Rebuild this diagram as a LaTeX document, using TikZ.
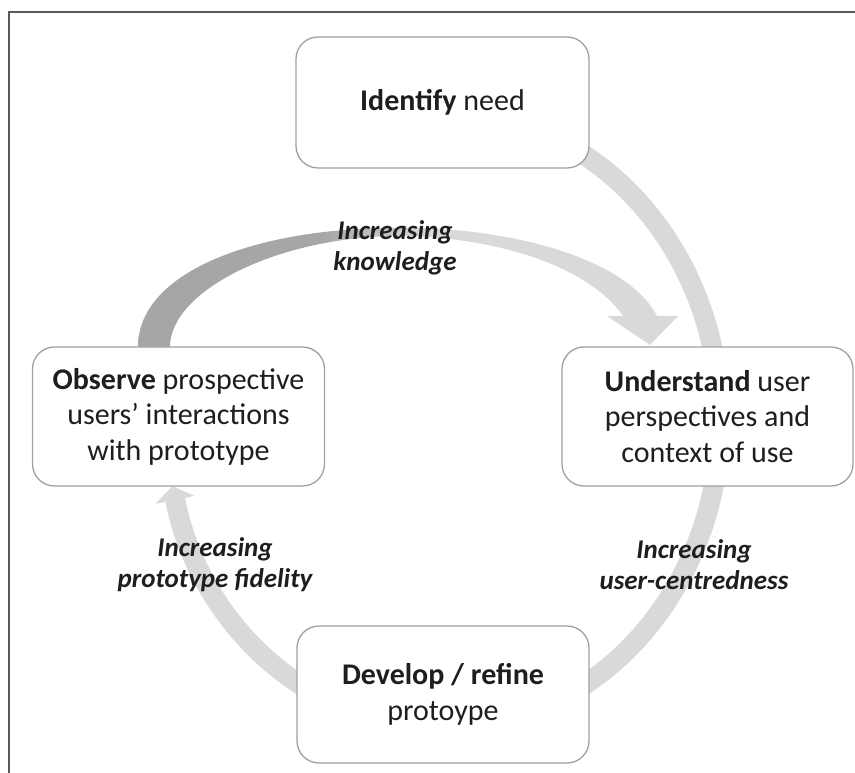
\documentclass[tikz,border=0pt]{standalone}
\usepackage{fontspec}
\setmainfont{Carlito}
\usetikzlibrary{arrows.meta}
\definecolor{ringgray}{RGB}{217,217,217}
\definecolor{kdark}{RGB}{166,166,166}
\definecolor{klight}{RGB}{217,217,217}
\definecolor{boxedge}{RGB}{160,160,160}
\definecolor{framec}{RGB}{90,90,90}
\definecolor{txt}{RGB}{30,30,30}
\pgfdeclarehorizontalshading{knowshade}{100bp}{color(0bp)=(kdark); color(42bp)=(kdark); color(52bp)=(klight); color(100bp)=(klight)}
\pgfdeclarelayer{background}
\pgfsetlayers{background,main}
\begin{document}
\begin{tikzpicture}[x=1pt,y=1pt,
  stage/.style={draw=boxedge, line width=1.3pt, fill=white, rounded corners=22pt, align=center, inner sep=0pt, font=\fontsize{30}{35.5}\selectfont, text=txt},
  lbl/.style={align=center, font=\fontsize{27}{31}\selectfont\bfseries\itshape, text=txt},
  ring/.style={line width=20pt, draw=ringgray}]
\useasboundingbox (0,0) rectangle (855,773);
\draw[framec, line width=2pt] (9,0) -- (9,760.5) -- (855,760.5);
\node[stage, minimum width=293pt, minimum height=131pt] (idn) at (442.5,670.5) {\textbf{Identify} need};
\node[stage, minimum width=292pt, minimum height=139pt] (obs) at (178.5,356.5) {\textbf{Observe} prospective\\users’ interactions\\with prototype};
\node[stage, minimum width=291pt, minimum height=139pt] (und) at (707.5,356.5) {\textbf{Understand} user\\perspectives and\\context of use};
\node[stage, minimum width=292pt, minimum height=137pt] (dev) at (443,78.5) {\textbf{Develop / refine}\\protoype};
\begin{pgfonlayer}{background}
\draw[ring, -{Triangle[width=40pt,length=14pt,line width=0pt]}] ([xshift=0.5pt,yshift=-9.5pt]idn.center) arc[start angle=90, end angle=-167.6, x radius=277pt, y radius=308pt];
\shade[shading=knowshade] (138,418) -- (138,426) .. controls (138,503) and (260,545) .. (395,545) .. controls (500,547) and (625,518) .. (657,457) -- (678,457) -- (650,428) -- (607,457) -- (623,457) .. controls (590,505) and (500,536) .. (400,537) .. controls (280,537) and (170,483) .. (170,426) -- (170,418) -- cycle;
\end{pgfonlayer}
\node[lbl] (lk) at (395,525) {Increasing\\knowledge};
\node[lbl] (lf) at (215,208.5) {Increasing\\prototype fidelity};
\node[lbl] (lu) at (694,208.5) {Increasing\\user-centredness};
\end{tikzpicture}
\end{document}
